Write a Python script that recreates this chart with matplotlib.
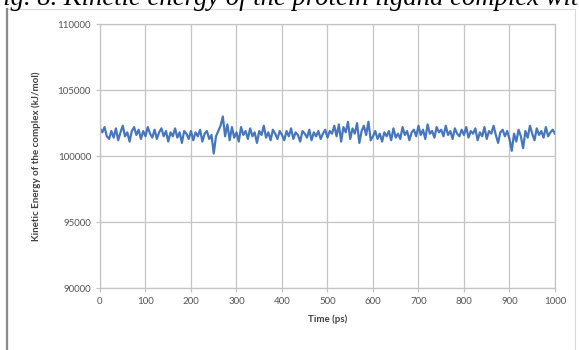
import matplotlib.pyplot as plt
from matplotlib.lines import Line2D
from matplotlib.patches import Rectangle

# kinetic energy of the complex (kJ/mol), sampled every 5 ps
time_ps = list(range(0, 1001, 5))
energy = [
    102100, 101800, 102200, 101500, 101300, 101900, 101400, 102100, 101200, 101800,
    102300, 101500, 101800, 101100, 101900, 102200, 101600, 102000, 101300, 101900,
    101500, 102200, 101700, 101400, 102000, 101300, 101800, 102100, 101500, 101900,
    101100, 101800, 101500, 102100, 101400, 101800, 101000, 101900, 101700, 101300,
    101900, 101200, 101800, 101500, 102000, 101100, 101700, 101900, 101300, 101600,
    100200, 101500, 101900, 102300, 103000, 101500, 102400, 101200, 102200, 101400,
    101800, 101100, 102200, 101600, 101900, 101300, 102100, 101500, 101800, 101000,
    101900, 101600, 102300, 101400, 101800, 101200, 102000, 101700, 101300, 101900,
    101600, 101200, 101900, 101500, 102100, 101300, 101800, 101600, 101100, 101900,
    101700, 101400, 102000, 101200, 101800, 101500, 101900, 101300, 101700, 102000,
    101400, 101900, 101700, 102300, 101500, 102400, 101100, 102200, 101800, 102600,
    101300, 102100, 101700, 102500, 101000, 101900, 102300, 101600, 102600, 101200,
    101500, 101900, 101300, 101700, 101100, 101800, 101500, 101900, 101200, 102100,
    101400, 101700, 101300, 102200, 101600, 101900, 101200, 101800, 102000, 101500,
    102300, 101600, 102000, 101300, 102400, 101700, 101900, 101400, 102200, 101800,
    102000, 101500, 102300, 101600, 101900, 101300, 102100, 101700, 101500, 102000,
    101600, 102200, 101400, 101900, 101700, 102100, 101200, 101800, 101500, 102200,
    101300, 101900, 101700, 102300, 101600, 101000, 101800, 102000, 101500, 101900,
    101300, 100400, 101700, 101100, 102000, 101500, 100600, 101900, 101400, 102300,
    101700, 101200, 102100, 101600, 101900, 101400, 102200, 101500, 101800, 102000,
    101700,
]
x_ticks = list(range(0, 1001, 100))
y_ticks = [90000, 95000, 100000, 105000, 110000]

caption = "Fig. 8. Kinetic energy of the protein ligand complex with"

plt.rcParams['font.family'] = ['Lato', 'DejaVu Sans']

fig = plt.figure(figsize=(5.79, 3.5), dpi=100)
ax = fig.add_axes([0.1727, 0.177, 0.7858, 0.754])

ax.plot(time_ps, energy, color='#4677bd', lw=1.6)

ax.set_xlim(0, 1000)
ax.set_ylim(90000, 110000)
ax.set_xticks(x_ticks)
ax.set_yticks(y_ticks)
ax.grid(True, color='#c4c4c4', lw=0.9)
ax.set_axisbelow(True)
for s in ax.spines.values():
    s.set_color('#c4c4c4')
    s.set_linewidth(0.9)
ax.tick_params(colors='#c4c4c4', labelcolor='#555555', labelsize=7,
               length=3, width=0.9)

ax.set_xlabel('Time (ps)', fontsize=7, fontweight='bold', color='#404040', labelpad=6)
ax.set_ylabel('Kinetic Energy of the complex (kJ/mol)', fontsize=7,
              fontweight='bold', color='#404040', labelpad=12)

# chart frame
fig.patches.append(Rectangle((7 / 579, -0.01), 568 / 579, 1 - 9 / 350 + 0.01,
                             transform=fig.transFigure, fill=False,
                             edgecolor='#d8d8d8', lw=0.8))
fig.lines.append(Line2D([7.5 / 579, 7.5 / 579], [0, 1 - 9 / 350],
                        transform=fig.transFigure, color='#8a8a8a', lw=1.6))

# caption cut at the top of the picture
fig.text(-0.022, 1 - 5 / 350, caption, fontsize=19.2, style='italic',
         family='Liberation Serif', va='baseline', ha='left')

fig.savefig('out.png', dpi=100)
